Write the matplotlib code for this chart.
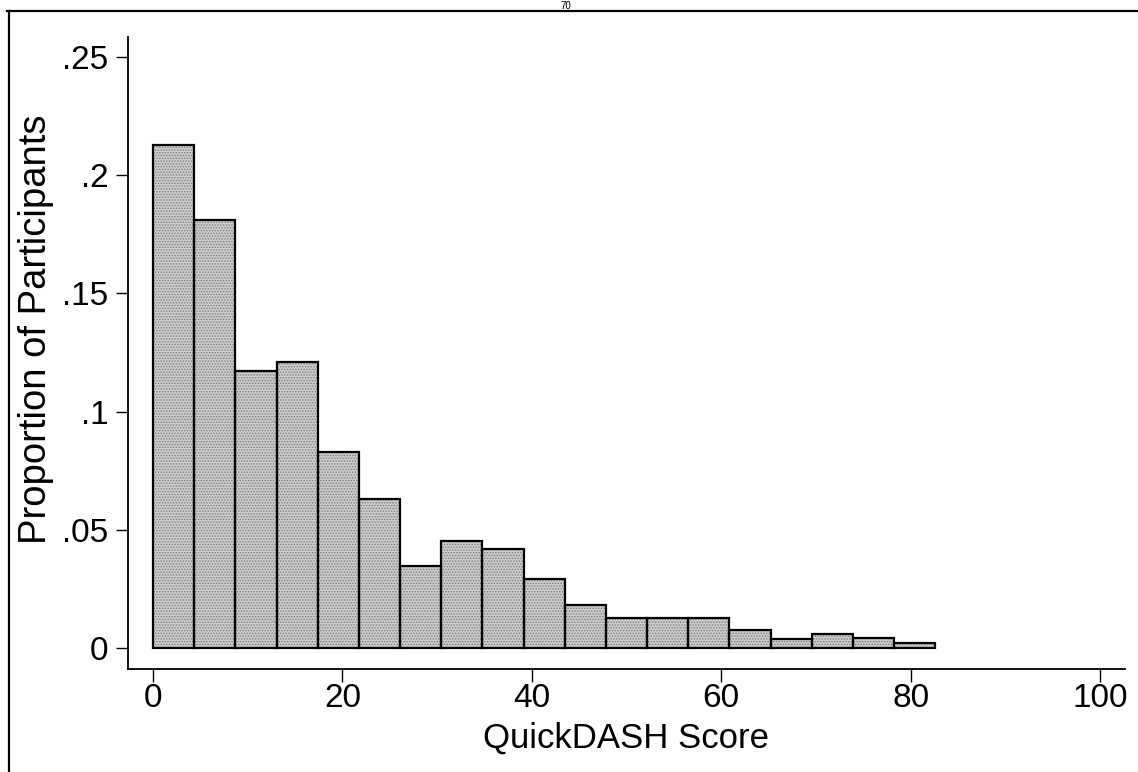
import numpy as np
import matplotlib
matplotlib.use("Agg")
import matplotlib.pyplot as plt
from matplotlib.lines import Line2D

# Data: histogram of QuickDASH scores (23 bins of width 100/23 spanning 0-100)
bin_width = 100 / 23
proportions = [0.2130, 0.1810, 0.1170, 0.1208, 0.0828, 0.0632, 0.0345, 0.0451,
               0.0418, 0.0292, 0.0182, 0.0125, 0.0125, 0.0128, 0.0075, 0.0040,
               0.0058, 0.0042, 0.0022]
x_ticks = [0, 20, 40, 60, 80, 100]
y_ticks = [0, 0.05, 0.1, 0.15, 0.2, 0.25]
y_ticklabels = ["0", ".05", ".1", ".15", ".2", ".25"]
x_label = "QuickDASH Score"
y_label = "Proportion of Participants"
page_number = "70"

plt.rcParams["font.family"] = ["Liberation Sans", "DejaVu Sans"]
plt.rcParams["hatch.linewidth"] = 0.7

W, H = 1138, 772
fig = plt.figure(figsize=(W / 100, H / 100), dpi=100)
ax = fig.add_axes([128 / W, 1 - 669 / H, (1125 - 128) / W, (669 - 37) / H])

left_edges = np.arange(len(proportions)) * bin_width
# textured (stippled) fill
ax.bar(left_edges, proportions, width=bin_width, align="edge",
       facecolor="#cdcdcd", edgecolor="#7a7a7a", hatch="......", linewidth=0)
# outlines
ax.bar(left_edges, proportions, width=bin_width, align="edge",
       fill=False, edgecolor="black", linewidth=1.6)

ax.set_xlim(-2.64, 102.64)
ax.set_ylim(-0.0089, 0.2585)
ax.set_xticks(x_ticks)
ax.set_xticklabels([str(v) for v in x_ticks])
ax.set_yticks(y_ticks)
ax.set_yticklabels(y_ticklabels)

for s in ["top", "right"]:
    ax.spines[s].set_visible(False)
for s in ["left", "bottom"]:
    ax.spines[s].set_linewidth(1.3)
    ax.spines[s].set_color("black")

ax.tick_params(axis="both", direction="out", length=9, width=1.0,
               labelsize=24, colors="black")
ax.tick_params(axis="y", pad=5)
ax.tick_params(axis="x", pad=1)

fig.text(626 / W, 1 - 748 / H, x_label, ha="center", va="baseline", fontsize=25)
fig.text(36 / W, 1 - 329 / H, y_label, ha="center", va="center",
         rotation=90, fontsize=27.5)

# page number at the top edge of the scanned page
fig.text(566 / W, 1 - 1 / H, page_number, ha="center", va="top", fontsize=7)

# frame lines of the scanned page
fig.add_artist(Line2D([7 / W, 1.0], [1 - 11 / H, 1 - 11 / H],
                      transform=fig.transFigure, color="black", linewidth=1.6))
fig.add_artist(Line2D([9 / W, 9 / W], [0.0, 1 - 11 / H],
                      transform=fig.transFigure, color="black", linewidth=1.6))

fig.savefig("out.png", dpi=100)
